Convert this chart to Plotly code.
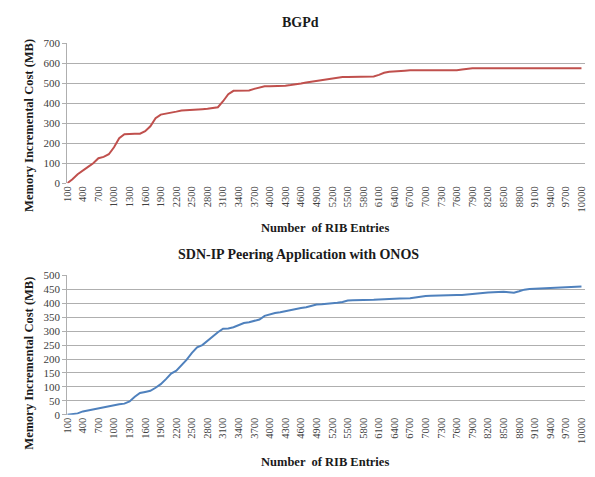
import plotly.graph_objects as go

# Categories: number of RIB entries
rib_entries = list(range(100, 10001, 100))

# BGPd memory incremental cost (MB)
bgpd_mb = [0, 20, 45, 65, 82, 100, 125, 132, 145, 180,
           225, 245, 248, 248, 248, 260, 285, 325, 343, 348,
           350, 358, 364, 365, 365, 367, 370, 372, 375, 380,
           410, 445, 462, 463, 463, 464, 472, 480, 485, 485,
           485, 486, 488, 491, 494, 499, 504, 508, 512, 515,
           519, 524, 528, 531, 531, 531, 531, 531, 531, 534,
           542, 552, 557, 558, 560, 563, 565, 565, 565, 565,
           565, 565, 565, 565, 565, 565, 569, 573, 575, 575,
           575, 575, 575, 575, 575, 575, 575, 575, 575, 575,
           575, 575, 575, 575, 575, 575, 575, 575, 575, 575]

# SDN-IP Peering Application with ONOS memory incremental cost (MB)
onos_mb = [0, 2, 5, 12, 16, 18, 22, 27, 30, 34,
           38, 40, 48, 65, 78, 82, 86, 97, 110, 128,
           148, 158, 178, 198, 222, 242, 250, 266, 280, 296,
           309, 310, 314, 322, 329, 332, 336, 342, 355, 361,
           365, 368, 372, 377, 380, 383, 386, 391, 396, 397,
           398, 399, 402, 405, 410, 411, 411, 412, 413, 413,
           414, 414, 414, 416, 417, 417, 418, 421, 424, 426,
           427, 428, 428, 429, 429, 430, 430, 432, 435, 437,
           438, 439, 440, 441, 441, 440, 438, 443, 449, 451,
           452, 452, 453, 454, 455, 455, 456, 457, 459, 460]

x_tick_vals = list(range(100, 10001, 300))
x_tick_text = [str(v) for v in x_tick_vals]
top_y_ticks = [0, 100, 200, 300, 400, 500, 600, 700]
bottom_y_ticks = [0, 50, 100, 150, 200, 250, 300, 350, 400, 450, 500]

top_title = "BGPd"
bottom_title = "SDN-IP Peering Application with ONOS"
x_title = "Number  of RIB Entries"
y_title = "Memory Incremental Cost (MB)"

# The page body has an 8px default margin, so the figure is sized to fill
# the remaining visible window area and positions are given in window pixels.
OFF = 8
W, H = 595 - OFF, 477 - OFF
SERIF = "Liberation Serif, Times New Roman, serif"

def py(pix):
    return (H - (pix - OFF)) / H

def px(pix):
    return (pix - OFF) / W

fig = go.Figure()
fig.add_trace(go.Scatter(x=rib_entries, y=bgpd_mb, mode="lines",
                         line=dict(color="#C0504D", width=2),
                         xaxis="x", yaxis="y", showlegend=False))
fig.add_trace(go.Scatter(x=rib_entries, y=onos_mb, mode="lines",
                         line=dict(color="#4F81BD", width=2),
                         xaxis="x2", yaxis="y2", showlegend=False))

grid = "#AFAFAF"
xcommon = dict(range=[100, 10070], tickmode="array", tickvals=x_tick_vals,
               ticktext=x_tick_text, tickangle=-90,
               tickfont=dict(family=SERIF, size=10.5, color="#404040"),
               showgrid=False, showline=False, zeroline=False,
               ticks="", fixedrange=True)
ycommon = dict(showgrid=True, gridcolor=grid, gridwidth=1.2,
               showline=True, linecolor=grid, linewidth=1.2,
               ticks="outside", ticklen=4, tickcolor=grid,
               tickfont=dict(family=SERIF, size=11, color="#404040"),
               zeroline=False)

fig.update_layout(
    width=W, height=H,
    paper_bgcolor="white", plot_bgcolor="white",
    margin=dict(l=0, r=0, t=0, b=0),
    xaxis=dict(domain=[px(62), px(587)], anchor="y", **xcommon),
    yaxis=dict(domain=[py(181.7), py(38)], anchor="x",
               range=[0, 700], tickvals=top_y_ticks, **ycommon),
    xaxis2=dict(domain=[px(62), px(587)], anchor="y2", **xcommon),
    yaxis2=dict(domain=[py(419.3), py(276.3)], anchor="x2",
                range=[0, 500], tickvals=bottom_y_ticks, **ycommon),
)

title_font = dict(family=SERIF, size=14, color="#1a1a1a")
axis_font = dict(family=SERIF, size=12.5, color="#1a1a1a")
anns = [
    dict(text="<b>%s</b>" % top_title, x=px(298), y=py(17), font=title_font),
    dict(text="<b>%s</b>" % bottom_title, x=px(296), y=py(255), font=title_font),
    dict(text="<b>%s</b>" % x_title, x=px(323), y=py(228), font=axis_font),
    dict(text="<b>%s</b>" % x_title, x=px(323), y=py(468), font=axis_font),
    dict(text="<b>%s</b>" % y_title, x=px(23), y=py(122), textangle=-90, font=axis_font),
    dict(text="<b>%s</b>" % y_title, x=px(23), y=py(366), textangle=-90, font=axis_font),
]
for a in anns:
    a.update(xref="paper", yref="paper", showarrow=False,
             xanchor="center", yanchor="middle")
fig.update_layout(annotations=anns)

fig.write_html("out.html")
